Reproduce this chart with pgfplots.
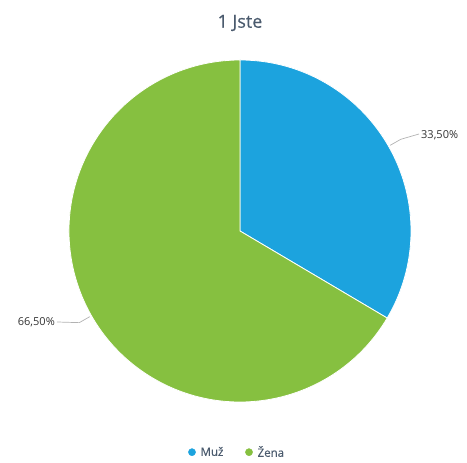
\documentclass[border=0pt]{standalone}
\usepackage{pgfplots}
\usepackage{pgfplotstable}
\usepackage{fontspec}
\setmainfont{Open Sans}
\newfontfamily\semib[FakeBold=0.4]{Open Sans}
\pgfplotsset{compat=1.18}
\definecolor{muz}{HTML}{1CA3DE}
\definecolor{zena}{HTML}{86C040}
\definecolor{titlec}{HTML}{4B5B6E}
\definecolor{labc}{HTML}{333333}

\pgfplotstableread{
name value
Muz  33.5
Zena 66.5
}\piedata

\begin{document}
\begin{tikzpicture}
\pgfplotstablegetelem{0}{value}\of\piedata \let\va\pgfplotsretval
\pgfplotstablegetelem{1}{value}\of\piedata \let\vb\pgfplotsretval
\pgfmathsetmacro{\aend}{90-3.6*\va}
\pgfmathsetmacro{\bend}{\aend-3.6*\vb}
\pgfmathsetmacro{\amid}{90-1.8*\va}
\pgfmathsetmacro{\bmid}{\aend-1.8*\vb}
\begin{axis}[
    scale only axis,
    width=467pt, height=457pt,
    xmin=0, xmax=467, ymin=0, ymax=457,
    hide axis, clip=false,
    legend style={at={(0.508,-0.012)}, anchor=south, draw=none, fill=none,
        legend columns=2, font=\semib\fontsize{11.5}{12}\selectfont\color{titlec},
        /tikz/every even column/.append style={column sep=20pt},
        /tikz/every odd column/.append style={column sep=3pt}},
    legend cell align=left,
]
\path (rel axis cs:0,0) rectangle (rel axis cs:1,1);
\addlegendimage{only marks, mark=*, mark size=3.6pt, color=muz}
\addlegendentry{Muž}
\addlegendimage{only marks, mark=*, mark size=3.6pt, color=zena}
\addlegendentry{Žena}

% slices
\fill[muz, draw=white, line width=0.8pt] (axis cs:240,226) -- ++(90:171pt)
    arc[start angle=90, end angle=\aend, radius=171pt] -- cycle;
\fill[zena, draw=white, line width=0.8pt] (axis cs:240,226) -- ++(\aend:171pt)
    arc[start angle=\aend, end angle=\bend, radius=171pt] -- cycle;

% labels
\draw[gray!60, line width=0.7pt] (axis cs:240,226) ++(\amid:173pt) -- ++(\amid:12pt) -- (axis cs:419,323);
\node[anchor=west, text=labc, font=\fontsize{11}{12}\selectfont, inner sep=2pt] at (axis cs:419,322) {33,50\%};
\draw[gray!60, line width=0.7pt] (axis cs:240,226) ++(\bmid:173pt) -- ++(\bmid:12pt) -- (axis cs:57,135);
\node[anchor=east, text=labc, font=\fontsize{11}{12}\selectfont, inner sep=2pt] at (axis cs:57,135) {66,50\%};

% title
\node[text=titlec, font=\semib\fontsize{18}{20}\selectfont] at (axis cs:240,434) {1 Jste};
\end{axis}
\end{tikzpicture}
\end{document}
